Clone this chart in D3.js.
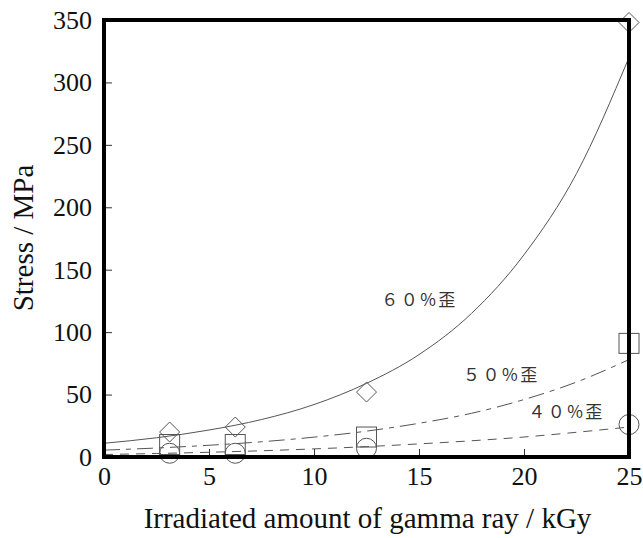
<!DOCTYPE html>
<html>
<head>
<meta charset="utf-8">
<script src="https://cdn.jsdelivr.net/npm/d3@7"></script>
<style>
	body { margin: 0; background: #fff; }
	.axis text { font-family: 'Liberation Serif', 'Times New Roman', serif; font-size: 26px; fill: #111; }
	.axis path { display: none; }
	.axis line { stroke: #333; stroke-width: 1; }
	.axis--label { font-family: 'Liberation Serif', 'Times New Roman', serif; font-size: 29px; fill: #111; }
	.curve--label { font-family: 'Noto Sans CJK JP', sans-serif; font-size: 17px; fill: #333; }
</style>
</head>
<body>
<div id="graphic"></div>
<script>
// measured points (kGy, MPa)
const doses = [3.125, 6.25, 12.5, 25];
const strain60 = [20, 24, 52, 348];
const strain50 = [10, 10, 16, 91];
const strain40 = [3, 3, 7, 26];

// fitted curves
const fitX = [0, 2.5, 5, 7.5, 10, 12.5, 15, 17.5, 20, 22.5, 25];
const fit60 = [11, 15.4, 21.6, 30, 42, 59, 82, 115, 162, 227, 320];
const fit50 = [5.5, 7.2, 9.4, 12.2, 15.9, 20.7, 27, 35, 46, 60, 78];
const fit40 = [2, 2.8, 3.8, 5, 6.5, 8.3, 10.5, 13, 16, 19.8, 24];

const xTicks = [0, 5, 10, 15, 20, 25];
const yTicks = [0, 50, 100, 150, 200, 250, 300, 350];

const labels = ['６０%歪', '５０%歪', '４０%歪'];

let margin = { top: 20, right: 14, bottom: 81, left: 104 };
let chart_width = 643 - margin.left - margin.right;
let height = 538 - margin.top - margin.bottom;

let svg = d3.select('#graphic')
	.append('svg')
	.attr('width', 643)
	.attr('height', 538)
	.append('g')
	.attr('transform', 'translate(' + margin.left + ',' + margin.top + ')');

const x = d3.scaleLinear().domain([0, 25]).range([0, chart_width]);
const y = d3.scaleLinear().domain([0, 350]).range([height, 0]);

//axes with inward ticks
svg.append('g')
	.attr('class', 'x axis')
	.attr('transform', 'translate(0,' + height + ')')
	.call(d3.axisBottom(x).tickValues(xTicks).tickSize(-8).tickFormat(d3.format('d')))
	.selectAll('text').attr('y', 28).attr('dy', 0);

svg.append('g')
	.attr('class', 'y axis')
	.call(d3.axisLeft(y).tickValues(yTicks).tickSize(-8).tickPadding(12).tickFormat(d3.format('d')));

// hide ticks on the ends where they meet the frame
svg.selectAll('.x.axis .tick line').filter(d => d == 0 || d == 25).remove();
svg.selectAll('.y.axis .tick line').filter(d => d == 0 || d == 350).remove();

// fit curves
const series = [
	{ vals: fit60, dash: null },
	{ vals: fit50, dash: '16,6,5,6' },
	{ vals: fit40, dash: '9,7' }
];
const line = d3.line()
	.x((d, i) => x(fitX[i]))
	.y(d => y(d))
	.curve(d3.curveMonotoneX);

series.forEach(s => {
	svg.append('path')
		.datum(s.vals)
		.attr('d', line)
		.attr('fill', 'none')
		.attr('stroke', '#555')
		.attr('stroke-width', 1)
		.attr('stroke-dasharray', s.dash);
});

// markers
const sym = 20;
svg.selectAll('path.diamond')
	.data(strain60)
	.join('path')
	.attr('class', 'diamond')
	.attr('d', `M0,${-sym / 2}L${sym / 2},0L0,${sym / 2}L${-sym / 2},0Z`)
	.attr('transform', (d, i) => 'translate(' + x(doses[i]) + ',' + y(d) + ')')
	.attr('fill', 'none').attr('stroke', '#555');

svg.selectAll('rect.square')
	.data(strain50)
	.join('rect')
	.attr('class', 'square')
	.attr('x', (d, i) => x(doses[i]) - sym / 2)
	.attr('y', d => y(d) - sym / 2)
	.attr('width', sym).attr('height', sym)
	.attr('fill', 'none').attr('stroke', '#555');

svg.selectAll('circle.ring')
	.data(strain40)
	.join('circle')
	.attr('class', 'ring')
	.attr('cx', (d, i) => x(doses[i]))
	.attr('cy', d => y(d))
	.attr('r', sym / 2)
	.attr('fill', 'none').attr('stroke', '#555');

// frame
svg.append('rect')
	.attr('width', chart_width).attr('height', height)
	.attr('fill', 'none').attr('stroke', '#000').attr('stroke-width', 4);

// curve labels
const labelPos = [[13.2, 126], [17.1, 66], [20.2, 36]];
labels.forEach((t, i) => {
	svg.append('text')
		.attr('class', 'curve--label')
		.attr('x', x(labelPos[i][0]))
		.attr('y', y(labelPos[i][1]))
		.attr('dy', '0.35em')
		.style('letter-spacing', '2.5px')
		.text(t);
});

// axis titles
svg.append('text')
	.attr('class', 'axis--label')
	.attr('x', chart_width / 2 + 1)
	.attr('y', 508)
	.attr('text-anchor', 'middle')
	.text('Irradiated amount of gamma ray / kGy');

svg.append('text')
	.attr('class', 'axis--label')
	.attr('transform', 'translate(' + (-71) + ',' + 218 + ') rotate(-90)')
	.attr('text-anchor', 'middle')
	.text('Stress / MPa');
</script>
</body>
</html>
